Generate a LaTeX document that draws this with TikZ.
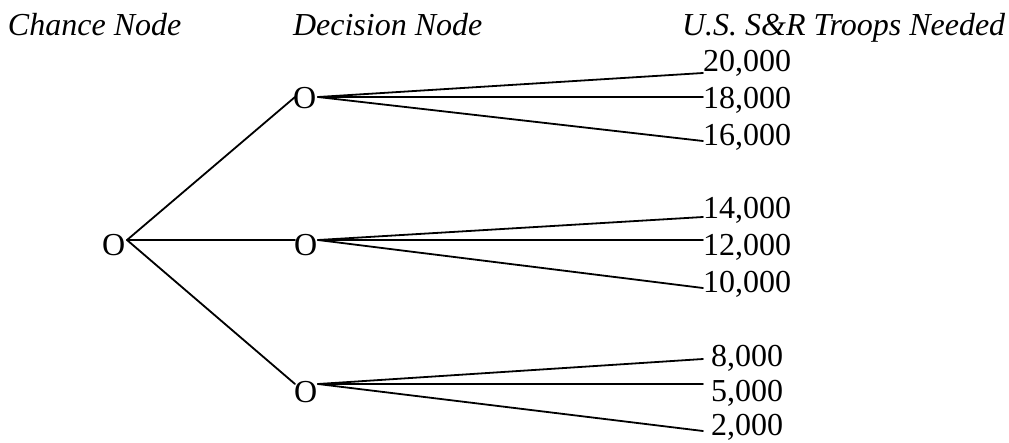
\documentclass[tikz,border=0pt]{standalone}
\usepackage{fontspec}
\setmainfont{Liberation Serif}
\begin{document}
\begin{tikzpicture}[x=1pt,y=-1pt,
  lbl/.style={anchor=base west, inner sep=0pt, outer sep=0pt, font=\fontsize{32}{38}\selectfont},
  hdr/.style={anchor=base west, inner sep=0pt, outer sep=0pt, font=\fontsize{32}{38}\selectfont\itshape},
  branch/.style={line width=1.8pt, line cap=round}]
\useasboundingbox (0,0) rectangle (1009,442);
% headers
\node[hdr] (hc) at (8,35) {Chance Node};
\node[hdr] (hd) at (293,35) {Decision Node};
\node[hdr] (ht) at (682,35) {U.S. S\&R Troops Needed};
% chance and decision nodes
\node[lbl] (c)  at (102,255) {O};
\node[lbl] (d1) at (293,108) {O};
\node[lbl] (d2) at (294,255) {O};
\node[lbl] (d3) at (294,402) {O};
% outcome labels
\node[lbl] (v1) at (703,71)  {20,000};
\node[lbl] (v2) at (703,108) {18,000};
\node[lbl] (v3) at (703,145) {16,000};
\node[lbl] (v4) at (703,218) {14,000};
\node[lbl] (v5) at (703,255) {12,000};
\node[lbl] (v6) at (703,292) {10,000};
\node[lbl] (v7) at (711,366) {8,000};
\node[lbl] (v8) at (711,401) {5,000};
\node[lbl] (v9) at (711,435.5) {2,000};
% ports
\coordinate (cR) at (127,240);
\coordinate (d1L) at (295,97);
\coordinate (d2L) at (295,240);
\coordinate (d3L) at (295,384);
\coordinate (d1R) at (318,97);
\coordinate (d2R) at (318,240);
\coordinate (d3R) at (318,384);
\coordinate (v1L) at (703,73);
\coordinate (v2L) at (703,97);
\coordinate (v3L) at (703,141);
\coordinate (v4L) at (703,217);
\coordinate (v5L) at (703,240);
\coordinate (v6L) at (703,288);
\coordinate (v7L) at (703,359);
\coordinate (v8L) at (703,384);
\coordinate (v9L) at (703,431);
% chance branches
\draw[branch] (cR) -- (d1L);
\draw[branch] (cR) -- (d2L);
\draw[branch] (cR) -- (d3L);
% decision branches
\draw[branch] (d1R) -- (v1L);
\draw[branch] (d1R) -- (v2L);
\draw[branch] (d1R) -- (v3L);
\draw[branch] (d2R) -- (v4L);
\draw[branch] (d2R) -- (v5L);
\draw[branch] (d2R) -- (v6L);
\draw[branch] (d3R) -- (v7L);
\draw[branch] (d3R) -- (v8L);
\draw[branch] (d3R) -- (v9L);
\end{tikzpicture}
\end{document}
